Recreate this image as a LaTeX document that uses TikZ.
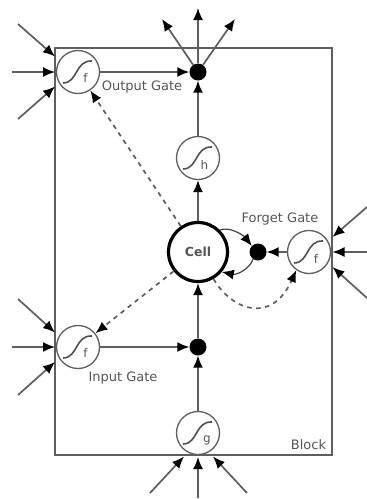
\documentclass[tikz,border=0pt]{standalone}
\usepackage{fontspec}
\setmainfont{DejaVu Sans}
\usetikzlibrary{arrows.meta,calc}
\definecolor{ln}{HTML}{5E5E5E}
\definecolor{tx}{HTML}{555555}
\tikzset{
  x=1pt,y=-1pt,
  conn/.style={draw=ln,line width=1.7pt,-{Latex[length=12pt,width=10pt,black]}},
  dashconn/.style={conn,dash pattern=on 4.5pt off 4.5pt},
  thinconn/.style={conn,line width=1.2pt,draw=ln!70!black},
  unit/.style={circle,draw=ln,fill=white,line width=1.3pt,minimum size=43pt,inner sep=0pt},
  blackdot/.style={circle,fill=black,minimum size=17pt,inner sep=0pt},
  lab/.style={text=tx,font=\fontsize{13}{15}\selectfont,inner sep=0pt},
  sublab/.style={text=tx,font=\fontsize{12}{14}\selectfont,inner sep=0pt},
  sig/.style={draw=ln!85!black,line width=1.6pt},
}
\newcommand{\sigm}[1]{\draw[sig] ($(#1)+(-15,11)$) .. controls ($(#1)+(0,11)$) and ($(#1)+(-3,-12)$) .. ($(#1)+(14,-11)$);}
\begin{document}
\begin{tikzpicture}
\useasboundingbox (0,0) rectangle (367,499);
\fill[white] (0,0) rectangle (367,499);
\draw[draw=ln,line width=1.7pt] (55,48) rectangle (332,455);
% nodes
\node[unit] (fo) at (78,72) {};
\node[unit] (h) at (198,158) {};
\node[unit] (ff) at (309,252) {};
\node[unit] (fi) at (78,347) {};
\node[unit] (g) at (198,433) {};
\node[blackdot] (do) at (198,72) {};
\node[blackdot] (df) at (258,252) {};
\node[blackdot] (di) at (198,347) {};
\node[circle,draw=black,fill=white,line width=3.2pt,minimum size=59pt,inner sep=0pt,text=tx,font=\fontsize{12.5}{15}\selectfont\bfseries] (cell) at (198,252) {Cell};
% sigmoids
\sigm{fo}\sigm{h}\sigm{ff}\sigm{fi}\sigm{g}
\node[sublab] (lf1) at (85.5,78) {f};
\node[sublab] (lh) at (204.5,165) {h};
\node[sublab] (lf2) at (316,259) {f};
\node[sublab] (lf3) at (85.5,353) {f};
\node[sublab] (lg) at (207,440) {g};
% labels
\node[lab] (t1) at (142,87) {Output Gate};
\node[lab] (t2) at (280,219) {Forget Gate};
\node[lab] (t3) at (123,378) {Input Gate};
\node[lab] (t4) at (308.5,445) {Block};
% free ends
\coordinate (a1) at (18,24); \coordinate (a1e) at (55,56.5);
\coordinate (a2) at (12,72); \coordinate (a2e) at (55,72);
\coordinate (a3) at (18,119); \coordinate (a3e) at (55,86.5);
\coordinate (b1) at (18,299); \coordinate (b1e) at (55,332.5);
\coordinate (b2) at (12,347); \coordinate (b2e) at (55,347);
\coordinate (b3) at (18,395); \coordinate (b3e) at (55,362);
\coordinate (c1) at (150,493); \coordinate (c1e) at (184,456.5);
\coordinate (c2) at (198,498); \coordinate (c2e) at (198,457);
\coordinate (c3) at (247,493); \coordinate (c3e) at (213,456.5);
\coordinate (e1) at (367,207); \coordinate (e1e) at (332.5,237);
\coordinate (e2) at (367,252); \coordinate (e2e) at (332.5,252);
\coordinate (e3) at (367,298); \coordinate (e3e) at (332.5,267);
\coordinate (o1) at (198,8);
\coordinate (o2) at (162,19);
\coordinate (o3) at (235,19);
% connectors
\foreach \p/\q in {a1/a1e,a2/a2e,a3/a3e,b1/b1e,b2/b2e,b3/b3e,c1/c1e,c2/c2e,c3/c3e,e1/e1e,e2/e2e,e3/e3e}
  \draw[conn] (\p) -- (\q);
\draw[conn] (do) -- (o1);
\draw[conn] (do) -- (o2);
\draw[conn] (do) -- (o3);
\draw[conn] (fo) -- (do);
\draw[conn] (h) -- (do);
\draw[conn] (cell) -- (h);
\draw[conn] (di) -- (cell);
\draw[conn] (g) -- (di);
\draw[conn] (fi) -- (di);
\draw[conn] (ff) -- (df);
\draw[dashconn] (cell) -- (fo);
\draw[dashconn] (cell) -- (fi);
\draw[dashconn] (cell.-60) .. controls +(18,31) and +(-25,55) .. (ff.-125);
\draw[thinconn] (cell.45) .. controls +(10,-4) and +(-8,-10) .. (df.135);
\draw[thinconn] (df.-125) .. controls +(-4,11) and +(14,3) .. (cell.-40);
\end{tikzpicture}
\end{document}
